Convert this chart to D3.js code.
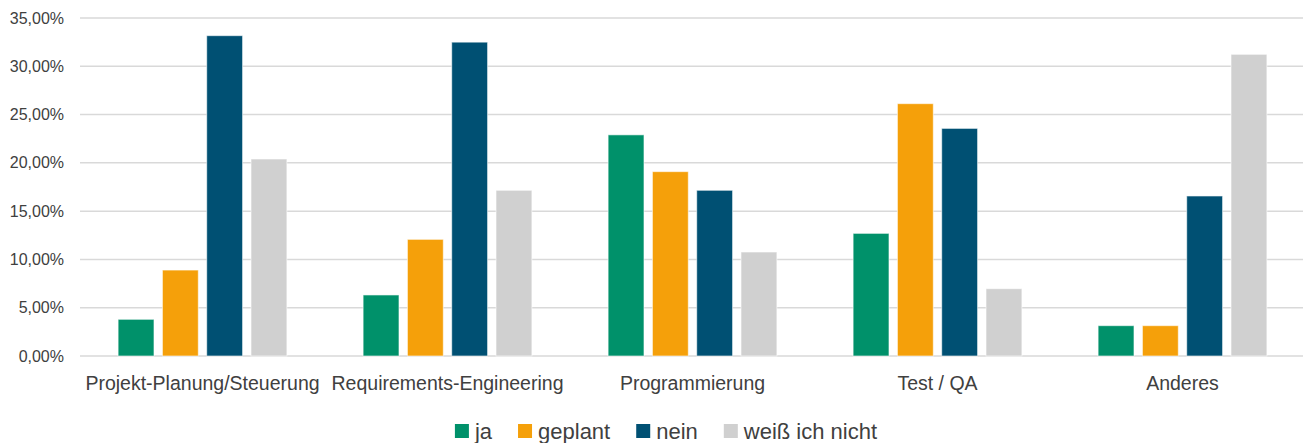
<!DOCTYPE html>
<html>
<head>
<meta charset="utf-8">
<script src="https://cdn.jsdelivr.net/npm/d3@7"></script>
<style>
  body { margin: 0; background: #fff; }
  text { font-family: "Liberation Sans", Arial, sans-serif; fill: #404040; }
</style>
</head>
<body>
<svg id="chart" width="1304" height="443"></svg>
<script>
const categories = ["Projekt-Planung/Steuerung", "Requirements-Engineering", "Programmierung", "Test / QA", "Anderes"];
const series = ["ja", "geplant", "nein", "weiß ich nicht"];
const colors = ["#00916a", "#f5a00a", "#005073", "#d0d0d0"];

// percentages, one array per series
const ja      = [3.80, 6.32, 22.90, 12.70, 3.14];
const geplant = [8.90, 12.08, 19.09, 26.13, 3.14];
const nein    = [33.17, 32.50, 17.16, 23.57, 16.57];
const weiss   = [20.40, 17.16, 10.77, 6.97, 31.24];
const yTicks  = [0, 5, 10, 15, 20, 25, 30, 35];

const values = [ja, geplant, nein, weiss];

const svg = d3.select("#chart");
const plotLeft = 80, plotRight = 1305, plotTop = 18, plotBottom = 356;

const x = d3.scaleBand().domain(categories).range([plotLeft, plotRight]);
const xs = d3.scaleBand().domain(series).range([0, x.bandwidth()])
    .paddingInner(0.19).paddingOuter(0.86);
const y = d3.scaleLinear().domain([0, 35]).range([plotBottom, plotTop]);

const fmt = v => v.toFixed(2).replace(".", ",") + "%";

// gridlines
svg.append("g")
    .selectAll("line")
    .data(yTicks)
    .join("line")
    .attr("x1", plotLeft)
    .attr("x2", 1303)
    .attr("y1", d => y(d))
    .attr("y2", d => y(d))
    .attr("stroke", "#d9d9d9")
    .attr("stroke-width", 1.5);

// y labels
svg.append("g")
    .selectAll("text")
    .data(yTicks)
    .join("text")
    .attr("x", 64)
    .attr("y", d => y(d))
    .attr("dy", "0.35em")
    .attr("text-anchor", "end")
    .style("font-size", "16px")
    .text(fmt);

// bars
const groups = svg.append("g")
    .selectAll("g")
    .data(categories)
    .join("g")
    .attr("transform", d => `translate(${x(d)},0)`);

groups.selectAll("rect")
    .data((c, ci) => series.map((s, si) => ({ s, si, v: values[si][ci] })))
    .join("rect")
    .attr("x", d => xs(d.s))
    .attr("width", xs.bandwidth())
    .attr("y", d => y(d.v))
    .attr("height", d => plotBottom - y(d.v))
    .attr("fill", d => colors[d.si])
    .attr("stroke", "rgba(255,255,255,0.6)")
    .attr("stroke-width", 1);

// category labels
svg.append("g")
    .selectAll("text")
    .data(categories)
    .join("text")
    .attr("x", d => x(d) + x.bandwidth() / 2)
    .attr("y", 390)
    .attr("text-anchor", "middle")
    .style("font-size", "19.5px")
    .text(d => d);

// legend
const legend = svg.append("g");
const items = legend.selectAll("g")
    .data(series)
    .join("g");
items.append("rect")
    .attr("width", 14)
    .attr("height", 14)
    .attr("y", 424)
    .attr("fill", (d, i) => colors[i]);
items.append("text")
    .attr("x", 20)
    .attr("y", 431)
    .attr("dy", "0.35em")
    .style("font-size", "22px")
    .text(d => d);

let pos = 0;
const gap = 26;
items.each(function () {
    const w = d3.select(this).select("text").node().getComputedTextLength();
    d3.select(this).attr("transform", `translate(${pos},0)`);
    pos += 20 + w + gap;
});
const total = pos - gap;
legend.attr("transform", `translate(${666 - total / 2},0)`);
</script>
</body>
</html>
